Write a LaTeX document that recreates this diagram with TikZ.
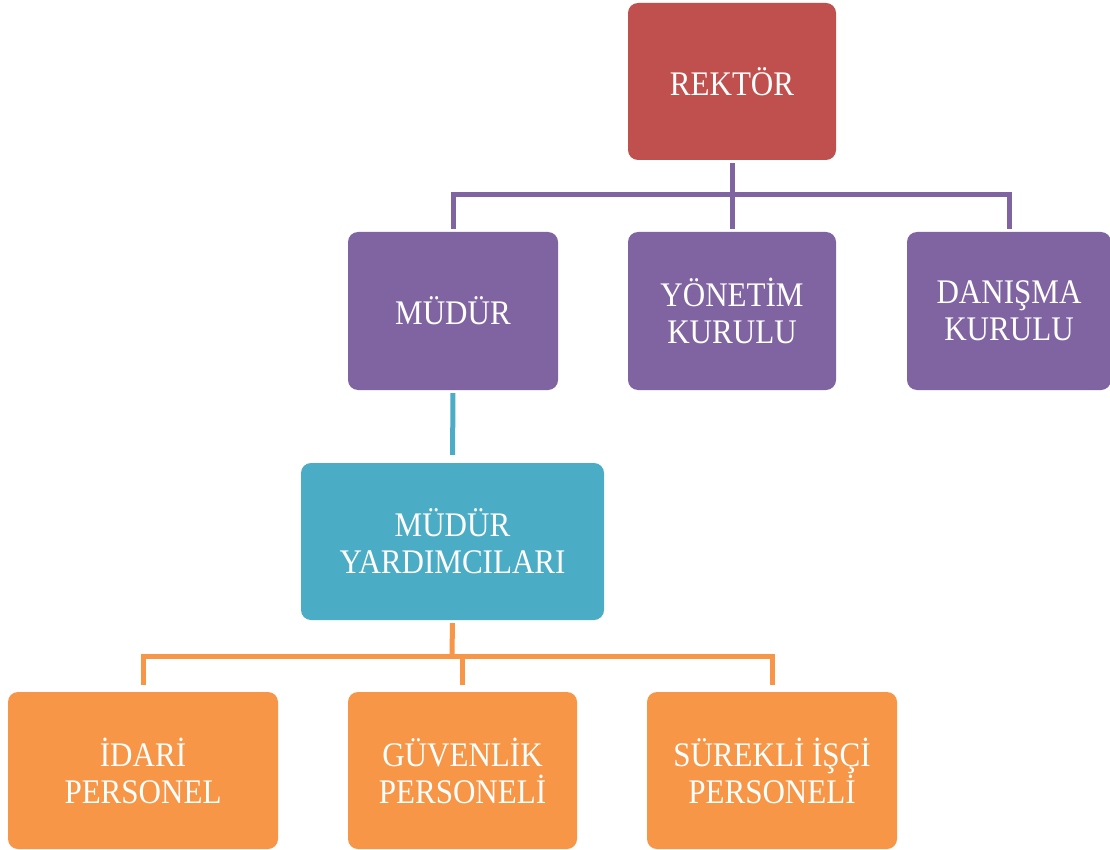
\documentclass[tikz,border=0pt]{standalone}
\usepackage{fontspec}
\setmainfont{Liberation Serif}[FakeStretch=0.9]
\definecolor{cred}{HTML}{C0504D}
\definecolor{cpurple}{HTML}{8064A2}
\definecolor{ccyan}{HTML}{4BACC6}
\definecolor{corange}{HTML}{F79646}
\tikzset{
  box/.style={rounded corners=10pt, inner sep=0pt, text=white, align=center,
    font=\fontsize{34.5}{37}\selectfont},
  lnk/.style={line width=5pt, shorten >=3pt, shorten <=3pt},
}
\begin{document}
\begin{tikzpicture}[x=1pt,y=-1pt]
\useasboundingbox[fill=white] (0,0) rectangle (1110,850);
\node[box, fill=cred, minimum width=208pt, minimum height=157pt] (rek) at (732,81.5) {REKTÖR};
\node[box, fill=cpurple, minimum width=210pt, minimum height=158pt] (mud) at (453,311) {MÜDÜR};
\node[box, fill=cpurple, minimum width=208pt, minimum height=158pt] (yon) at (732,311) {YÖNETİM\\KURULU};
\node[box, fill=cpurple, minimum width=204pt, minimum height=158pt] (dan) at (1009,311) {DANIŞMA\\KURULU};
\node[box, fill=ccyan, minimum width=303pt, minimum height=157pt] (my) at (452.5,541.5) {MÜDÜR\\YARDIMCILARI};
\node[box, fill=corange, minimum width=270pt, minimum height=157pt] (ida) at (143,770.5) {İDARİ\\PERSONEL};
\node[box, fill=corange, minimum width=229pt, minimum height=157pt] (guv) at (462.5,770.5) {GÜVENLİK\\PERSONELİ};
\node[box, fill=corange, minimum width=250pt, minimum height=157pt] (sur) at (772,770.5) {SÜREKLİ İŞÇİ\\PERSONELİ};
\coordinate (pb) at (732,195);
\coordinate (ob) at (452,656);
\draw[lnk, cpurple] (rek.south) -- (yon.north);
\draw[lnk, cpurple] (mud.north) |- (pb) -| (dan.north);
\draw[lnk, ccyan, shorten >=8pt] (mud.south) -- (my.north);
\draw[lnk, corange, shorten >=0pt] (my.south) -- (ob);
\draw[lnk, corange, shorten >=7pt, shorten <=7pt] (ida.north) |- (ob) -| (sur.north);
\draw[lnk, corange, shorten <=7pt, shorten >=0pt] (guv.north) -- (guv.north |- ob);
\end{tikzpicture}
\end{document}
